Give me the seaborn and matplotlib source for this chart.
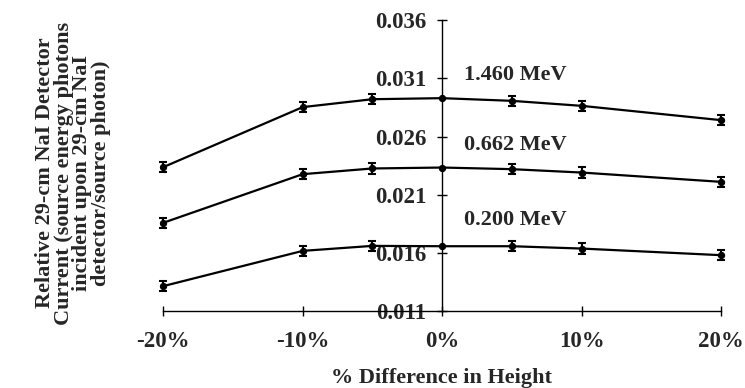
import matplotlib
matplotlib.use("Agg")
import matplotlib.pyplot as plt
import seaborn as sns
import pandas as pd

# % difference in height
height_diff = [-20, -10, -5, 0, 5, 10, 20]

# relative detector current per source energy
current_1460 = [0.02337, 0.02853, 0.02921, 0.02930, 0.02907, 0.02864, 0.02741]
current_0662 = [0.01859, 0.02277, 0.02326, 0.02334, 0.02320, 0.02291, 0.02211]
current_0200 = [0.01315, 0.01618, 0.01661, 0.01658, 0.01658, 0.01638, 0.01581]
error = [0.00045, 0.00045, 0.00045, 0.0, 0.00045, 0.00045, 0.00045]

energy_labels = ["1.460 MeV", "0.662 MeV", "0.200 MeV"]
x_ticks = [-20, -10, 0, 10, 20]
x_tick_labels = ["-20%", "-10%", "0%", "10%", "20%"]
y_ticks = [0.011, 0.016, 0.021, 0.026, 0.031, 0.036]
y_tick_labels = ["0.011", "0.016", "0.021", "0.026", "0.031", "0.036"]


def main():
    sns.set_style("white")
    plt.rcParams["font.family"] = ["Liberation Serif", "DejaVu Serif"]
    plt.rcParams["font.weight"] = "bold"

    rows = []
    for label, vals in zip(energy_labels, [current_1460, current_0662, current_0200]):
        for x, y, e in zip(height_diff, vals, error):
            rows.append({"diff": x, "current": y, "err": e, "energy": label})
    data = pd.DataFrame(rows)

    fig = plt.figure(figsize=(7.45, 3.88), dpi=100)
    ax = fig.add_axes([0.219, 0.198, 0.749, 0.750])

    sns.lineplot(data=data, x="diff", y="current", units="energy", estimator=None,
                 color="black", linewidth=1.6, marker="o", markersize=4.5,
                 markeredgecolor="black", ax=ax, clip_on=False)

    for label in energy_labels:
        sub = data[(data["energy"] == label) & (data["err"] > 0)]
        ax.errorbar(sub["diff"], sub["current"], yerr=sub["err"], fmt="none",
                    ecolor="black", elinewidth=1.5, capsize=3, capthick=1.5,
                    clip_on=False)

    # energy labels next to the central axis
    label_y = [0.03128, 0.02526, 0.01882]
    for label, ly in zip(energy_labels, label_y):
        ax.text(1.6, ly, label, fontsize=16, fontweight="bold", va="center", ha="left")

    ax.set_xlim(-20, 20)
    ax.set_ylim(0.011, 0.036)
    ax.spines["top"].set_visible(False)
    ax.spines["right"].set_visible(False)
    ax.spines["left"].set_position(("data", 0))
    for side in ["left", "bottom"]:
        ax.spines[side].set_linewidth(1.0)
        ax.spines[side].set_color("black")

    ax.set_xticks(x_ticks)
    ax.set_xticklabels(x_tick_labels, fontsize=16.5, fontweight="bold")
    ax.set_yticks(y_ticks)
    ax.set_yticklabels(y_tick_labels, fontsize=16.5, fontweight="bold")
    ax.tick_params(axis="both", direction="inout", length=7, width=1, color="black",
                   left=True, bottom=True)
    ax.tick_params(axis="x", pad=11)
    ax.tick_params(axis="y", pad=8)
    ax.set_xlabel("")
    ax.set_ylabel("")

    fig.text(0.098, 0.554,
             "Relative 29-cm NaI Detector\nCurrent (source energy photons\n"
             "incident upon 29-cm NaI\ndetector/source photon)",
             rotation=90, ha="center", va="center", multialignment="center",
             fontsize=16, fontweight="bold", linespacing=0.92)
    fig.text(0.592, 0.025, "% Difference in Height", ha="center", va="center",
             fontsize=16, fontweight="bold")

    fig.savefig("out.png", dpi=100)


if __name__ == "__main__":
    main()
